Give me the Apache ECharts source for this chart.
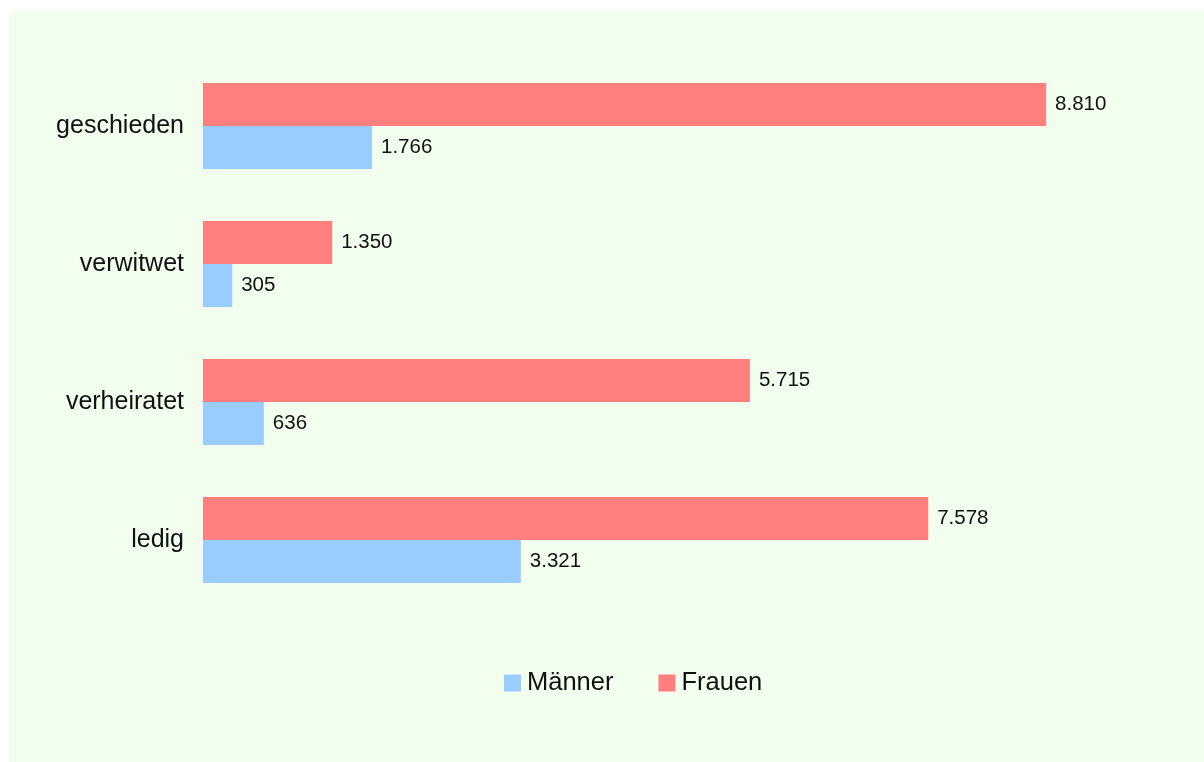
<!DOCTYPE html>
<html>
<head>
<meta charset="utf-8">
<script src="https://cdn.jsdelivr.net/npm/echarts@6/dist/echarts.min.js"></script>
<style>
html,body{margin:0;padding:0;background:#ffffff;width:1204px;height:762px;overflow:hidden;}
#chart{position:absolute;left:9px;top:11px;width:1195px;height:751px;}
</style>
</head>
<body>
<div id="chart"></div>
<script>
const categories = ['ledig', 'verheiratet', 'verwitwet', 'geschieden'];
const maenner = [3321, 636, 305, 1766];
const frauen = [7578, 5715, 1350, 8810];
const seriesNames = ['Männer', 'Frauen'];

const fmt = v => v.toLocaleString('de-DE');
const font = 'Liberation Sans, Arial, sans-serif';

const chart = echarts.init(document.getElementById('chart'), null, {renderer: 'canvas'});
chart.setOption({
  backgroundColor: '#F2FEEE',
  animation: false,
  grid: {left: 194, right: 44, top: 46, bottom: 153, containLabel: false},
  xAxis: {
    type: 'value', min: 0, max: 10000, show: false
  },
  yAxis: {
    type: 'category', data: categories,
    axisLine: {show: false}, axisTick: {show: false}, splitLine: {show: false},
    axisLabel: {color: '#111', fontSize: 25, fontFamily: font, margin: 19, padding: [4, 0, 0, 0]}
  },
  legend: {
    data: seriesNames, left: 495, top: 659, padding: 0, itemWidth: 17, itemHeight: 17, itemGap: 45,
    icon: 'rect',
    textStyle: {color: '#111', fontSize: 25.5, fontFamily: font, padding: [0,0,0,1]}
  },
  series: [
    {
      name: seriesNames[1], type: 'bar', data: frauen, barWidth: 43, barGap: '0%',
      itemStyle: {color: '#FF7F7F'},
      label: {show: true, position: 'right', distance: 9, color: '#111', fontSize: 20.5, fontFamily: font, formatter: p => fmt(p.value)}
    },
    {
      name: seriesNames[0], type: 'bar', data: maenner, barWidth: 43, barGap: '0%',
      itemStyle: {color: '#99CCFF'},
      label: {show: true, position: 'right', distance: 9, color: '#111', fontSize: 20.5, fontFamily: font, formatter: p => fmt(p.value)}
    }
  ]
});
</script>
</body>
</html>
